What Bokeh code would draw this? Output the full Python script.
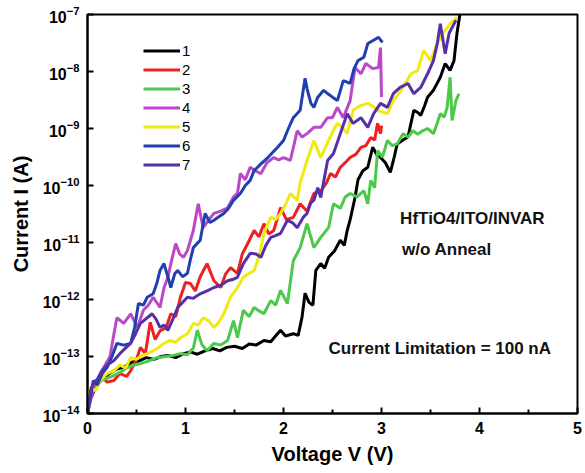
import numpy as np
from bokeh.plotting import figure
from bokeh.models import Legend, LegendItem, Label, FixedTicker
from bokeh.embed import file_html
from bokeh.resources import INLINE

# ---- data (voltage in V, current as log10(I/A)) ----
v1 = [0.0, 0.03, 0.08, 0.15, 0.22, 0.3, 0.38, 0.45, 0.52, 0.6, 0.68, 0.75, 0.82, 0.9, 0.98, 1.05, 1.12, 1.2, 1.28, 1.35,
      1.42, 1.5, 1.58, 1.65, 1.72, 1.8, 1.87, 1.93, 1.97, 2.02, 2.1, 2.15, 2.19, 2.22, 2.26, 2.3, 2.33, 2.38, 2.42, 2.46,
      2.52, 2.58, 2.62, 2.65, 2.68, 2.73, 2.76, 2.81, 2.86, 2.91, 2.95, 2.99, 3.04, 3.09, 3.13, 3.16, 3.22, 3.27, 3.33, 3.37,
      3.4, 3.44, 3.47, 3.53, 3.57, 3.6, 3.65, 3.7, 3.74, 3.77, 3.8]
log_i1 = [-14.0, -13.75, -13.55, -13.4, -13.3, -13.22, -13.18, -13.1, -13.08, -13.02, -13.05, -13.0, -12.98, -13.02, -12.95,
          -12.92, -12.96, -12.9, -12.86, -12.9, -12.84, -12.82, -12.86, -12.78, -12.8, -12.72, -12.74, -12.62, -12.54, -12.64,
          -12.6, -12.63, -12.3, -11.89, -12.05, -12.1, -11.49, -11.37, -11.45, -11.26, -11.15, -10.96, -11.05, -10.79, -10.6,
          -10.21, -9.9, -9.74, -9.68, -9.33, -9.45, -9.51, -9.6, -9.77, -9.5, -9.27, -9.2, -9.15, -8.68, -8.72,
          -8.77, -8.6, -8.45, -8.33, -8.2, -8.1, -7.86, -7.98, -7.81, -7.33, -7.0]

v2 = [0.0, 0.05, 0.1, 0.15, 0.2, 0.27, 0.33, 0.4, 0.44, 0.5, 0.54, 0.59, 0.64, 0.69, 0.74, 0.8, 0.85, 0.9, 0.95, 1.0,
      1.05, 1.1, 1.15, 1.22, 1.29, 1.36, 1.41, 1.46, 1.53, 1.58, 1.64, 1.7, 1.75, 1.8, 1.85, 1.9, 1.97, 2.03, 2.1, 2.17,
      2.24, 2.31, 2.38, 2.44, 2.48, 2.53, 2.58, 2.63, 2.68, 2.74, 2.79, 2.84, 2.89, 2.93, 2.96, 2.99, 3.0]
log_i2 = [-13.9, -13.6, -13.45, -13.35, -13.45, -13.42, -13.3, -13.35, -13.25, -13.05, -12.84, -12.95, -12.4, -12.7, -12.55,
          -12.5, -12.25, -12.3, -11.95, -11.7, -11.72, -11.85, -11.6, -11.37, -11.67, -11.79, -11.55, -11.44, -11.54, -11.2,
          -11.0, -10.79, -10.9, -10.67, -10.85, -10.79, -10.39, -10.6, -10.56, -10.32, -10.45, -10.14, -10.1, -9.95, -9.79,
          -9.85, -9.68, -9.6, -9.51, -9.45, -9.33, -9.3, -9.16, -9.2, -8.91, -9.09, -8.95]

v3 = [0.0, 0.05, 0.1, 0.17, 0.25, 0.33, 0.4, 0.48, 0.55, 0.62, 0.71, 0.8, 0.88, 0.95, 1.02, 1.08, 1.12, 1.17, 1.22, 1.29,
      1.36, 1.43, 1.49, 1.53, 1.59, 1.65, 1.7, 1.75, 1.8, 1.87, 1.92, 1.97, 2.04, 2.1, 2.17, 2.24, 2.31, 2.38, 2.46, 2.51,
      2.58, 2.63, 2.68, 2.75, 2.82, 2.86, 2.89, 2.93, 2.96, 3.01, 3.06, 3.11, 3.16, 3.22, 3.27, 3.32, 3.37, 3.42, 3.47, 3.53,
      3.57, 3.6, 3.64, 3.67, 3.7, 3.72, 3.76, 3.79]
log_i3 = [-13.8, -13.55, -13.45, -13.4, -13.35, -13.28, -13.2, -13.15, -13.12, -13.08, -13.02, -13.0, -12.98, -12.95, -12.97,
          -12.85, -12.54, -12.8, -12.9, -12.77, -12.8, -12.72, -12.37, -12.67, -12.19, -12.3, -12.14, -12.2, -12.25, -12.02,
          -12.1, -11.84, -12.07, -11.32, -11.09, -10.67, -11.09, -10.91, -10.74, -10.32, -10.4, -10.2, -10.14, -10.2, -10.09,
          -10.32, -9.91, -10.04, -9.39, -9.5, -9.21, -9.3, -9.27, -9.09, -9.15, -9.04, -9.1, -9.04, -9.0, -9.09,
          -8.9, -8.74, -8.8, -8.63, -8.1, -8.86, -8.51, -8.39]

v4 = [0.0, 0.04, 0.08, 0.13, 0.18, 0.23, 0.27, 0.3, 0.37, 0.44, 0.51, 0.57, 0.62, 0.67, 0.74, 0.78, 0.82, 0.86, 0.9, 0.94,
      0.98, 1.02, 1.08, 1.13, 1.18, 1.24, 1.29, 1.36, 1.43, 1.49, 1.53, 1.56, 1.61, 1.66, 1.72, 1.77, 1.83, 1.9, 1.95, 2.0,
      2.07, 2.14, 2.19, 2.24, 2.31, 2.38, 2.45, 2.5, 2.55, 2.61, 2.68, 2.73, 2.79, 2.84, 2.91, 2.97, 2.99, 3.0]
log_i4 = [-14.0, -13.7, -13.5, -13.3, -13.15, -13.0, -12.6, -12.32, -12.42, -12.25, -12.49, -12.19, -12.1, -11.96, -12.14,
          -11.8, -11.61, -11.3, -11.02, -11.2, -11.26, -11.14, -10.79, -10.32, -10.74, -10.6, -10.49, -10.45, -10.39, -10.2,
          -10.14, -9.79, -9.9, -9.68, -9.75, -9.79, -9.6, -9.51, -9.55, -9.51, -9.56, -9.04, -9.15, -9.09, -8.98,
          -8.98, -8.81, -8.81, -8.63, -8.81, -8.51, -7.93, -8.04, -7.86, -7.95, -7.93, -7.58, -8.45]

v5 = [0.0, 0.03, 0.08, 0.14, 0.2, 0.27, 0.33, 0.39, 0.44, 0.5, 0.56, 0.61, 0.67, 0.72, 0.78, 0.84, 0.9, 0.95, 1.02, 1.08,
      1.13, 1.18, 1.24, 1.29, 1.34, 1.39, 1.46, 1.53, 1.59, 1.64, 1.7, 1.74, 1.77, 1.8, 1.87, 1.92, 1.97, 2.03, 2.07, 2.14,
      2.17, 2.2, 2.24, 2.31, 2.38, 2.46, 2.52, 2.55, 2.6, 2.65, 2.71, 2.78, 2.86, 2.92, 2.96, 3.06, 3.12, 3.17, 3.22, 3.3,
      3.37, 3.43, 3.5, 3.57, 3.63, 3.7, 3.77]
log_i5 = [-13.9, -13.54, -13.6, -13.4, -13.3, -13.25, -13.15, -13.2, -13.02, -13.05, -12.98, -12.95, -12.9, -12.85, -12.77,
          -12.72, -12.75, -12.67, -12.6, -12.42, -12.45, -12.32, -12.38, -12.49, -12.4, -12.25, -11.96, -11.79, -11.61, -11.55,
          -11.49, -11.3, -11.09, -10.84, -10.56, -10.6, -10.49, -10.3, -10.14, -10.26, -9.95, -9.79, -9.56, -9.21, -9.51,
          -9.21, -9.0, -8.91, -8.98, -9.09, -8.68, -8.6, -8.56, -8.62, -8.68, -8.74, -8.51, -8.4, -8.28, -8.04,
          -7.98, -7.63, -7.81, -7.51, -7.33, -7.16, -7.05]

v6 = [0.0, 0.03, 0.06, 0.1, 0.15, 0.2, 0.25, 0.3, 0.37, 0.44, 0.48, 0.52, 0.57, 0.61, 0.67, 0.71, 0.74, 0.78, 0.82, 0.85,
      0.89, 0.92, 0.97, 1.02, 1.05, 1.08, 1.15, 1.2, 1.25, 1.29, 1.34, 1.39, 1.44, 1.49, 1.56, 1.61, 1.66, 1.7, 1.77, 1.84,
      1.94, 2.0, 2.05, 2.1, 2.17, 2.22, 2.24, 2.28, 2.31, 2.35, 2.41, 2.46, 2.5, 2.55, 2.61, 2.68, 2.72, 2.76, 2.82, 2.86,
      2.91, 2.97, 3.01]
log_i6 = [-14.0, -13.7, -13.42, -13.5, -13.3, -13.19, -13.0, -12.77, -12.8, -12.77, -12.5, -12.07, -12.1, -11.96, -11.9,
          -11.7, -11.49, -11.37, -11.6, -11.79, -11.55, -11.49, -11.6, -11.54, -11.3, -11.09, -10.96, -10.49, -10.65, -10.61,
          -10.55, -10.49, -10.4, -10.26, -10.14, -10.0, -9.91, -9.74, -9.62, -9.51, -9.33, -9.21, -9.0, -8.81, -8.68,
          -8.12, -8.3, -8.56, -8.63, -8.45, -8.33, -8.4, -8.45, -8.51, -8.16, -8.21, -7.95, -7.81, -7.75, -7.51,
          -7.46, -7.4, -7.49]

v7 = [0.0, 0.03, 0.06, 0.1, 0.15, 0.2, 0.27, 0.33, 0.39, 0.44, 0.49, 0.54, 0.61, 0.66, 0.7, 0.74, 0.78, 0.82, 0.87, 0.92,
      0.97, 1.02, 1.08, 1.15, 1.22, 1.29, 1.36, 1.43, 1.48, 1.53, 1.59, 1.66, 1.72, 1.77, 1.82, 1.87, 1.92, 1.97, 2.04, 2.09,
      2.14, 2.2, 2.24, 2.28, 2.31, 2.35, 2.38, 2.45, 2.51, 2.58, 2.65, 2.71, 2.79, 2.86, 2.92, 2.99, 3.06, 3.12, 3.19, 3.27,
      3.33, 3.4, 3.47, 3.53, 3.57, 3.6, 3.65, 3.69, 3.72, 3.76]
log_i7 = [-14.0, -13.6, -13.47, -13.4, -13.25, -13.15, -13.07, -12.95, -12.85, -12.77, -12.6, -12.42, -12.32, -12.25, -12.35,
          -12.49, -12.45, -12.54, -12.35, -12.14, -12.05, -11.96, -11.98, -11.9, -11.85, -11.79, -11.75, -11.67, -11.65, -11.61,
          -11.37, -11.19, -11.2, -11.26, -11.05, -10.91, -10.88, -10.84, -10.61, -10.65, -10.74, -10.56, -10.49, -10.3, -10.26,
          -10.04, -10.21, -9.56, -9.44, -9.09, -8.74, -8.91, -8.81, -8.98, -8.74, -8.56, -8.63, -8.39, -8.28, -8.21,
          -8.39, -8.28, -8.04, -7.81, -7.5, -7.16, -7.69, -7.33, -7.23, -7.1]

labels = ["1", "2", "3", "4", "5", "6", "7"]
colors = ["#000000", "#ee2020", "#4cc84c", "#bb48c8", "#f0ea10", "#2040b0", "#5530a8"]
voltages = [v1, v2, v3, v4, v5, v6, v7]
log_currents = [log_i1, log_i2, log_i3, log_i4, log_i5, log_i6, log_i7]

FONT = "Liberation Sans"

p = figure(width=585, height=473, x_range=(0, 5), y_range=(1e-14, 1e-7), y_axis_type="log",
           output_backend="svg", toolbar_location=None,
           min_border_left=87, min_border_right=8, min_border_top=14, min_border_bottom=60)
p.background_fill_color = "white"
p.border_fill_color = "white"
p.outline_line_color = "black"
p.outline_line_width = 2
p.xgrid.visible = False
p.ygrid.visible = False

renderers = []
for v, li, c in zip(voltages, log_currents, colors):
    r = p.line(np.array(v), 10.0 ** np.array(li), line_color=c, line_width=3)
    renderers.append(r)

# axes
p.xaxis.ticker = FixedTicker(ticks=[0, 1, 2, 3, 4, 5], minor_ticks=[0.5, 1.5, 2.5, 3.5, 4.5])
p.yaxis.ticker = FixedTicker(ticks=[1e-14, 1e-13, 1e-12, 1e-11, 1e-10, 1e-9, 1e-8, 1e-7])
for ax in (p.xaxis[0], p.yaxis[0]):
    ax.axis_line_width = 2
    ax.major_tick_in = 6
    ax.major_tick_out = 0
    ax.major_tick_line_width = 2
    ax.major_label_text_font = FONT
    ax.major_label_text_font_style = "bold"
    ax.major_label_text_font_size = "16px"
    ax.major_label_text_color = "black"
    ax.axis_label_text_font = FONT
    ax.axis_label_text_font_style = "bold"
    ax.axis_label_text_font_size = "20px"
    ax.axis_label_text_color = "black"
    ax.major_label_standoff = 8
p.xaxis.minor_tick_in = 4
p.xaxis.minor_tick_out = 0
p.xaxis.minor_tick_line_width = 2
p.yaxis.minor_tick_line_color = None
p.xaxis.axis_label = "Voltage V (V)"
p.yaxis.axis_label = "Current I (A)"
p.xaxis.axis_label_standoff = 6
p.yaxis.axis_label_standoff = 8

# legend
items = [LegendItem(label=l, renderers=[r]) for l, r in zip(labels, renderers)]
legend = Legend(items=items, location=(56, 240), border_line_color=None, background_fill_alpha=0,
                padding=0, margin=0, glyph_width=37, glyph_height=15, label_height=15, spacing=2,
                label_standoff=2, label_text_font=FONT, label_text_font_size="15px",
                label_text_color="black")
p.add_layout(legend)

# annotations
ann = dict(text_font=FONT, text_font_style="bold", text_font_size="17px", text_baseline="middle",
           text_color="#111111")
p.add_layout(Label(x=3.19, y=2.6e-11, text="HfTiO4/ITO/INVAR", **ann))
p.add_layout(Label(x=3.21, y=7.6e-12, text="w/o Anneal", **ann))
p.add_layout(Label(x=2.46, y=1.38e-13, text="Current Limitation = 100 nA", **ann))

open("out.html", "w").write(file_html(p, INLINE))
